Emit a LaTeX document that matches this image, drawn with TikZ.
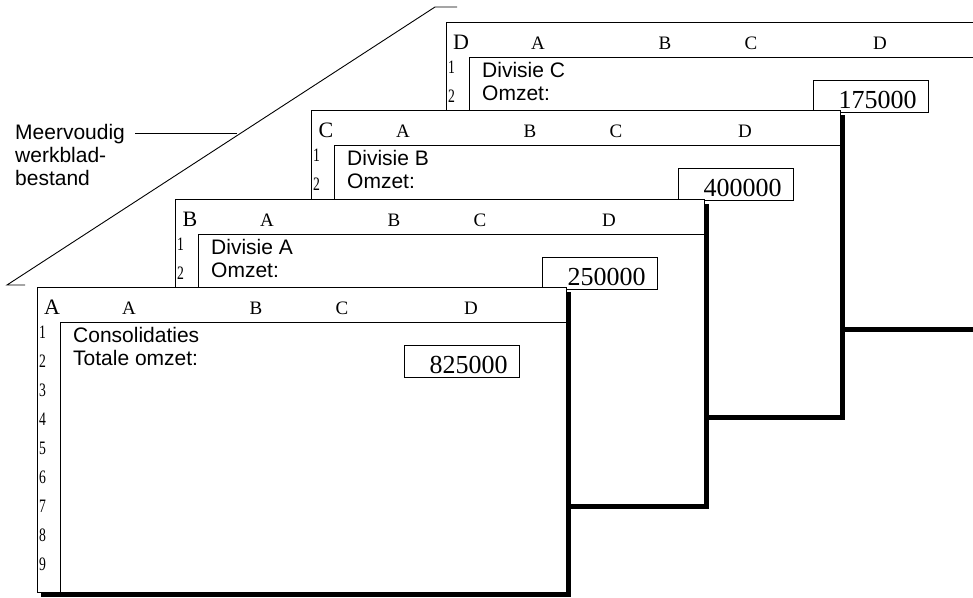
\documentclass[tikz,border=0pt]{standalone}
\usepackage{fontspec}
\setmainfont{Liberation Serif}
\newfontfamily\helv{Liberation Sans}
\newfontfamily\narrowserif[FakeStretch=0.72]{Liberation Serif}

\tikzset{
  sheet/.style={draw, line width=1pt, fill=white},
  sheetshadow/.style={line width=4pt},
  frameline/.style={line width=0.9pt},
  sheetletter/.style={anchor=base, inner sep=0pt, font=\fontsize{22}{22}\selectfont},
  colletter/.style={anchor=base, inner sep=0pt, font=\fontsize{19}{19}\selectfont},
  rownum/.style={anchor=base west, inner sep=0pt, font=\narrowserif\fontsize{19}{19}\selectfont},
  celltext/.style={anchor=base west, inner sep=0pt, font=\helv\fontsize{21}{21}\selectfont},
  valbox/.style={draw, line width=0.9pt, anchor=north west, inner sep=0pt,
    minimum width=115pt, minimum height=32pt},
  valtext/.style={anchor=base east, inner sep=0pt, font=\fontsize{26}{26}\selectfont},
  sidetext/.style={anchor=base west, inner sep=0pt, font=\helv\fontsize{21}{21}\selectfont},
}

\begin{document}
\begin{tikzpicture}[x=1pt, y=-1pt]
    \useasboundingbox (0,0) rectangle (973,597);
    \clip (0,0) rectangle (973,597);

    % stack of sheets, back to front
    \foreach \sx/\sy/\nm/\ttl/\lbl/\val/\nr in {
        446/22/D/Divisie C/Omzet:/175000/2,
        311/110/C/Divisie B/Omzet:/400000/2,
        175/199/B/Divisie A/Omzet:/250000/2,
        37/287/A/Consolidaties/Totale omzet:/825000/9} {
      \begin{scope}[shift={(\sx,\sy)}]
        \draw[sheetshadow] (532,5) -- (532,308) -- (4,308);
        \draw[sheet] (0,0) rectangle (529,305);
        \draw[frameline] (23,305) -- (23,35) -- (529,35);

        \node[sheetletter] (\nm-corner) at (15,27) {\nm};
        \foreach \c/\cx in {A/92, B/219, C/305, D/434}
          \node[colletter] (\nm-col\c) at (\cx,27) {\c};
        \foreach \r in {1,...,\nr}
          \node[rownum] (\nm-row\r) at (2,{22.5+29*\r}) {\r};

        \node[celltext] (\nm-line1) at (36,55) {\ttl};
        \node[celltext] (\nm-line2) at (36,78) {\lbl};
        \node[valbox] (\nm-box) at (367,58) {};
        \node[valtext] (\nm-val) at ([xshift=-12pt, yshift=4pt]\nm-box.south east) {\val};
      \end{scope}
    }

    % label on the left
    \node[sidetext] (mv) at (15,139) {Meervoudig};
    \node[sidetext] (wb) at (15,162) {werkblad-};
    \node[sidetext] (bs) at (15,185) {bestand};

    \coordinate (lowend) at (25,285);
    \coordinate (lowcorner) at (7,285);
    \coordinate (topcorner) at (435,7);
    \coordinate (topend) at (457,7);
    \coordinate (tip) at (237,132);

    \draw[line width=0.9pt] (lowend) -- (lowcorner) -- (topcorner) -- (topend);
    \draw[line width=0.9pt] ([xshift=10pt]mv.east) -- (mv.east -| tip);
\end{tikzpicture}
\end{document}
